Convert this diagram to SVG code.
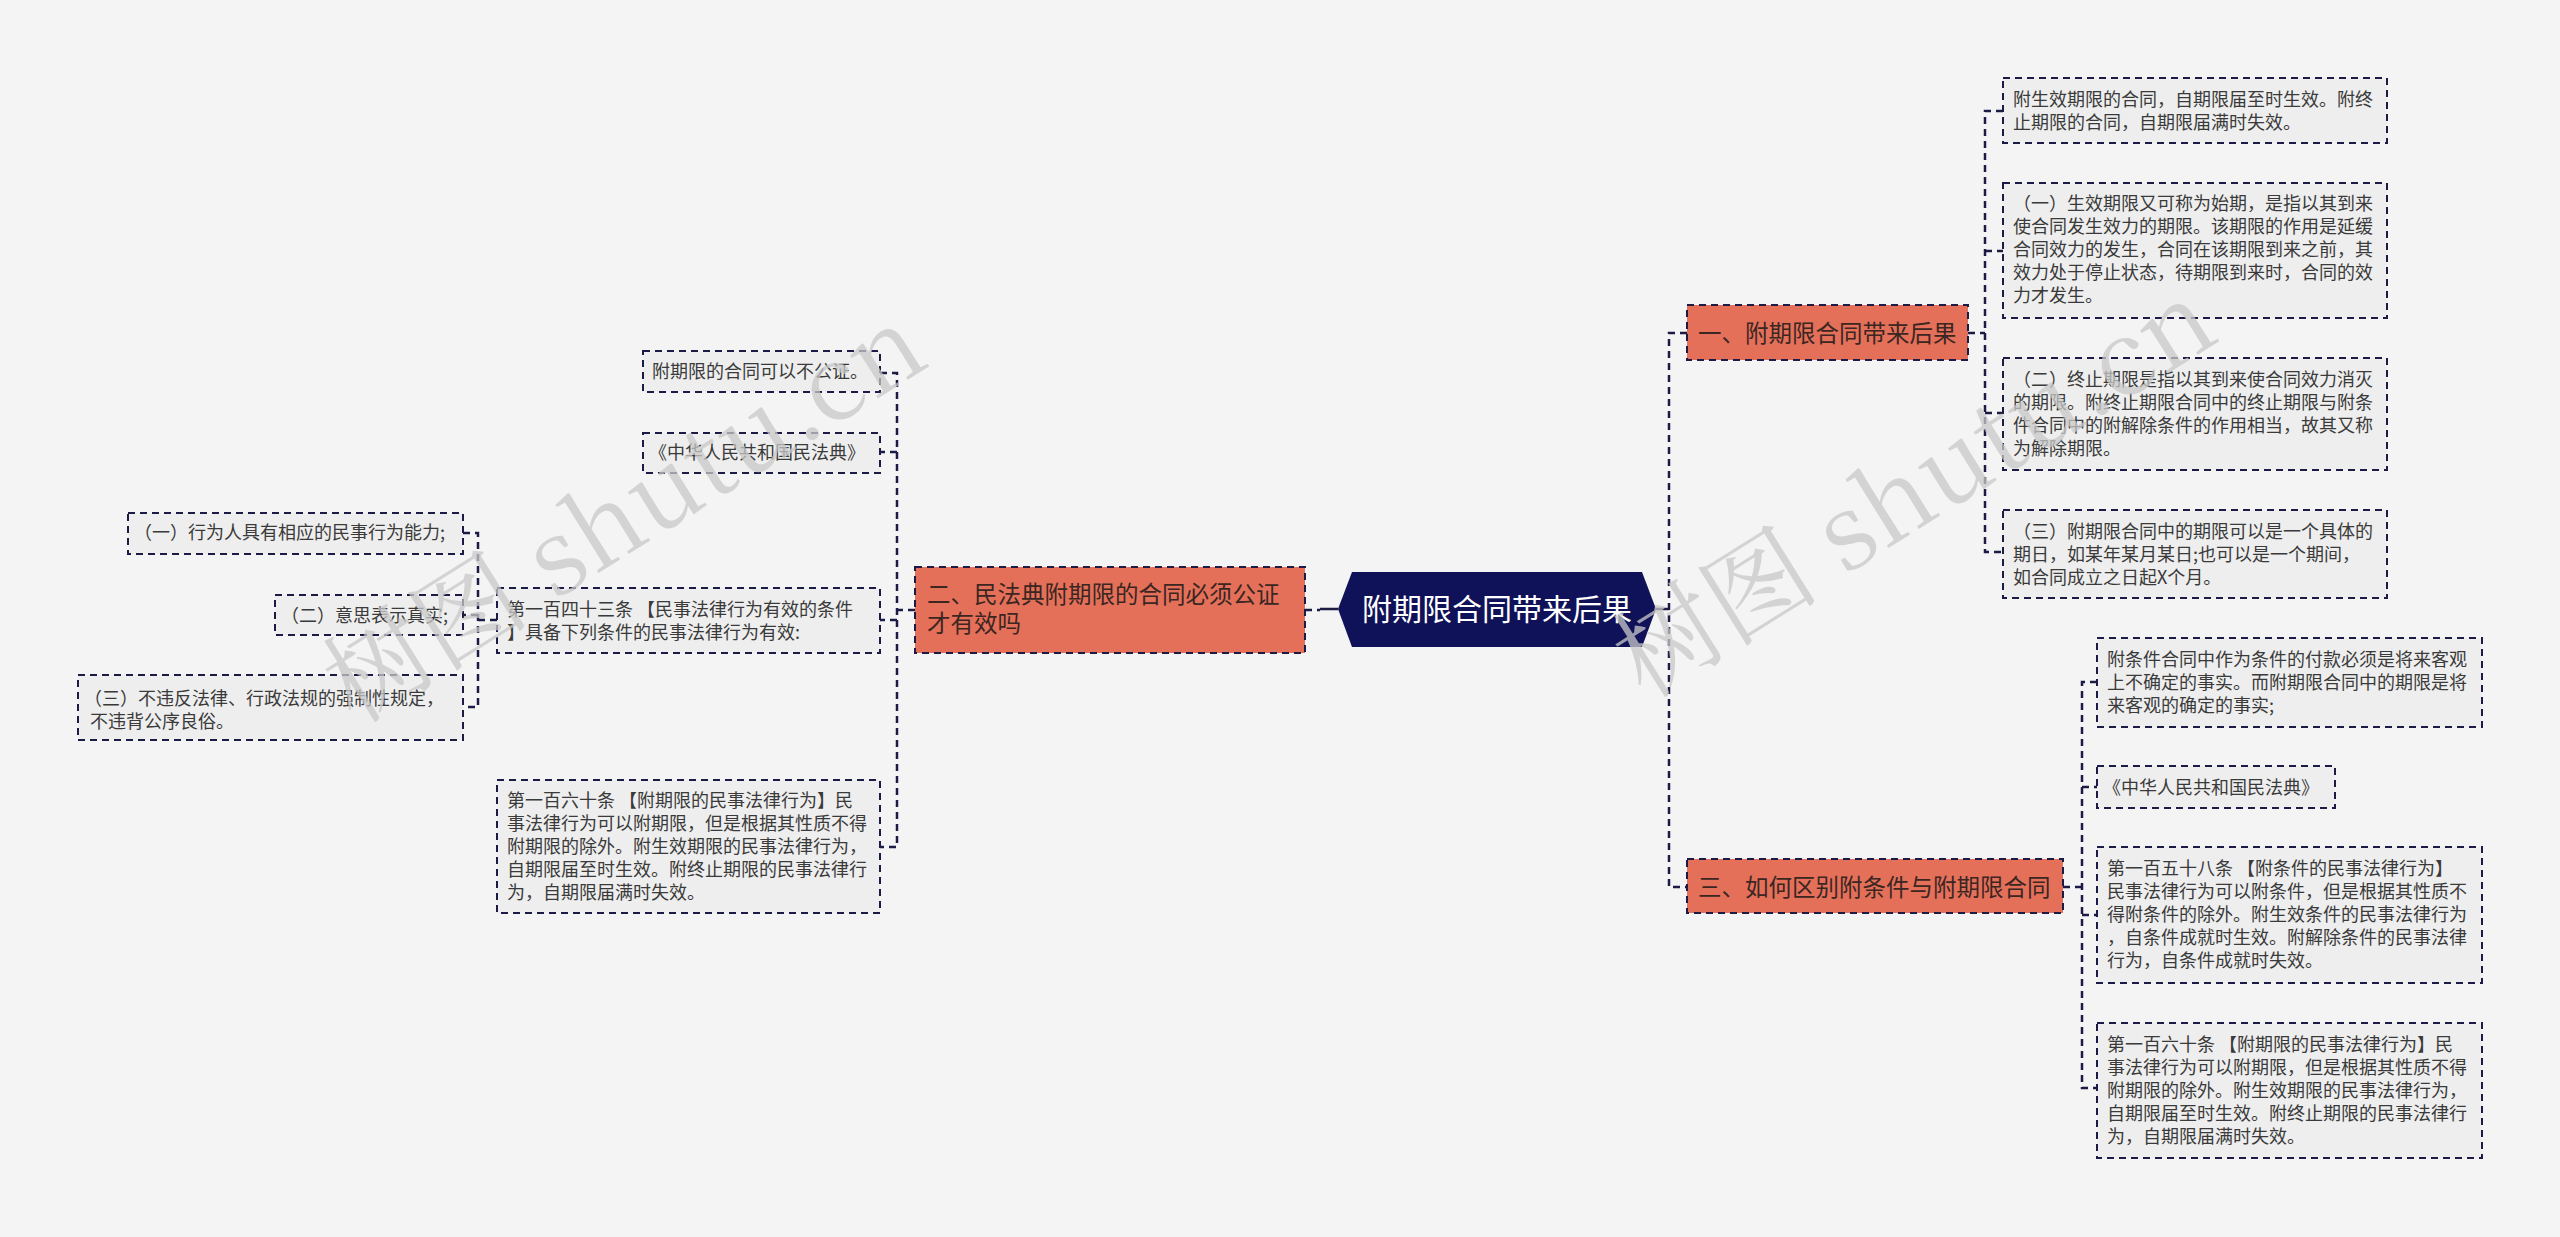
<svg xmlns="http://www.w3.org/2000/svg" width="2560" height="1237" viewBox="0 0 2560 1237">
<style>
.bg{fill:#f4f4f4}
.box{fill:#eeeeee;stroke:#1b1b45;stroke-width:2;stroke-dasharray:7 5}
.cat{fill:#e5705a;stroke:#1b1b45;stroke-width:2;stroke-dasharray:7 5}
.t{font-family:"Noto Sans CJK SC","Microsoft YaHei",sans-serif;font-size:18px;fill:#3a3a3a}
.ct{font-family:"Noto Sans CJK SC",sans-serif;font-size:23.5px;fill:#3b2622}
.mt{font-family:"Noto Sans CJK SC",sans-serif;font-size:30px;fill:#ffffff}
.ln{fill:none;stroke:#1b1b45;stroke-width:2.5;stroke-dasharray:7 5}
.sl{fill:none;stroke:#1b1b45;stroke-width:2.5}
.wm{font-family:"Noto Serif CJK SC","Noto Sans CJK SC",serif;font-size:104px;fill:#c9c9c9;opacity:0.75}
</style>
<rect class="bg" x="0" y="0" width="2560" height="1237"/>

<g id="connectors">
  <path class="sl" d="M1320 609 H1338"/>
  <path class="sl" d="M1656 609 H1669"/>
  <path class="ln" d="M1305 610 H1320"/>
  <path class="ln" d="M1687 333 H1669 V887 H1687"/>
  <path class="ln" d="M1968 333 H1985"/>
  <path class="ln" d="M2003 111 H1985 V552 H2003"/>
  <path class="ln" d="M1985 251 H2003"/>
  <path class="ln" d="M1985 413 H2003"/>
  <path class="ln" d="M2063 887 H2082"/>
  <path class="ln" d="M2097 682 H2082 V1088 H2097"/>
  <path class="ln" d="M2082 787 H2097"/>
  <path class="ln" d="M2082 915 H2097"/>
  <path class="ln" d="M915 610 H897"/>
  <path class="ln" d="M880 373 H897 V847 H880"/>
  <path class="ln" d="M897 452 H880"/>
  <path class="ln" d="M897 620 H880"/>
  <path class="ln" d="M497 620 H478"/>
  <path class="ln" d="M463 533 H478 V707 H463"/>
  <path class="ln" d="M478 615 H463"/>
</g>

<g id="root">
  <polygon points="1338,609 1352,572 1642,572 1656,609 1642,647 1352,647" fill="#0f1258"/>
  <text class="mt" x="1497" y="620" text-anchor="middle">附期限合同带来后果</text>
</g>

<g id="n1">
  <rect class="cat" x="1687" y="305" width="281" height="55"/>
  <text class="ct" x="1698" y="342">一、附期限合同带来后果</text>
</g>
<g id="n3">
  <rect class="cat" x="1687" y="859" width="376" height="54"/>
  <text class="ct" x="1698" y="896">三、如何区别附条件与附期限合同</text>
</g>
<g id="n2">
  <rect class="cat" x="915" y="567" width="390" height="86"/>
  <text class="ct" x="927" y="603">二、民法典附期限的合同必须公证</text>
  <text class="ct" x="927" y="632">才有效吗</text>
</g>

<g id="n1c1">
  <rect class="box" x="2003" y="78" width="384" height="65"/>
  <text class="t" x="2013" y="106">附生效期限的合同，自期限届至时生效。附终</text>
  <text class="t" x="2013" y="129">止期限的合同，自期限届满时失效。</text>
</g>
<g id="n1c2">
  <rect class="box" x="2003" y="183" width="384" height="135"/>
  <text class="t" x="2013" y="210">（一）生效期限又可称为始期，是指以其到来</text>
  <text class="t" x="2013" y="233">使合同发生效力的期限。该期限的作用是延缓</text>
  <text class="t" x="2013" y="256">合同效力的发生，合同在该期限到来之前，其</text>
  <text class="t" x="2013" y="279">效力处于停止状态，待期限到来时，合同的效</text>
  <text class="t" x="2013" y="302">力才发生。</text>
</g>
<g id="n1c3">
  <rect class="box" x="2003" y="358" width="384" height="112"/>
  <text class="t" x="2013" y="386">（二）终止期限是指以其到来使合同效力消灭</text>
  <text class="t" x="2013" y="409">的期限。附终止期限合同中的终止期限与附条</text>
  <text class="t" x="2013" y="432">件合同中的附解除条件的作用相当，故其又称</text>
  <text class="t" x="2013" y="455">为解除期限。</text>
</g>
<g id="n1c4">
  <rect class="box" x="2003" y="510" width="384" height="88"/>
  <text class="t" x="2013" y="538">（三）附期限合同中的期限可以是一个具体的</text>
  <text class="t" x="2013" y="561">期日，如某年某月某日;也可以是一个期间，</text>
  <text class="t" x="2013" y="584">如合同成立之日起X个月。</text>
</g>

<g id="n3c1">
  <rect class="box" x="2097" y="638" width="385" height="89"/>
  <text class="t" x="2107" y="666">附条件合同中作为条件的付款必须是将来客观</text>
  <text class="t" x="2107" y="689">上不确定的事实。而附期限合同中的期限是将</text>
  <text class="t" x="2107" y="712">来客观的确定的事实;</text>
</g>
<g id="n3c2">
  <rect class="box" x="2097" y="766" width="238" height="42"/>
  <text class="t" x="2103" y="794">《中华人民共和国民法典》</text>
</g>
<g id="n3c3">
  <rect class="box" x="2097" y="847" width="385" height="136"/>
  <text class="t" x="2107" y="875">第一百五十八条 【附条件的民事法律行为】</text>
  <text class="t" x="2107" y="898">民事法律行为可以附条件，但是根据其性质不</text>
  <text class="t" x="2107" y="921">得附条件的除外。附生效条件的民事法律行为</text>
  <text class="t" x="2107" y="944">，自条件成就时生效。附解除条件的民事法律</text>
  <text class="t" x="2107" y="967">行为，自条件成就时失效。</text>
</g>
<g id="n3c4">
  <rect class="box" x="2097" y="1023" width="385" height="135"/>
  <text class="t" x="2107" y="1051">第一百六十条 【附期限的民事法律行为】民</text>
  <text class="t" x="2107" y="1074">事法律行为可以附期限，但是根据其性质不得</text>
  <text class="t" x="2107" y="1097">附期限的除外。附生效期限的民事法律行为，</text>
  <text class="t" x="2107" y="1120">自期限届至时生效。附终止期限的民事法律行</text>
  <text class="t" x="2107" y="1143">为，自期限届满时失效。</text>
</g>

<g id="n2c1">
  <rect class="box" x="643" y="351" width="237" height="41"/>
  <text class="t" x="652" y="378">附期限的合同可以不公证。</text>
</g>
<g id="n2c2">
  <rect class="box" x="643" y="433" width="237" height="40"/>
  <text class="t" x="649" y="459">《中华人民共和国民法典》</text>
</g>
<g id="n2c3">
  <rect class="box" x="497" y="588" width="383" height="65"/>
  <text class="t" x="507" y="616">第一百四十三条 【民事法律行为有效的条件</text>
  <text class="t" x="507" y="639">】具备下列条件的民事法律行为有效:</text>
</g>
<g id="n2c4">
  <rect class="box" x="497" y="780" width="383" height="133"/>
  <text class="t" x="507" y="807">第一百六十条 【附期限的民事法律行为】民</text>
  <text class="t" x="507" y="830">事法律行为可以附期限，但是根据其性质不得</text>
  <text class="t" x="507" y="853">附期限的除外。附生效期限的民事法律行为，</text>
  <text class="t" x="507" y="876">自期限届至时生效。附终止期限的民事法律行</text>
  <text class="t" x="507" y="899">为，自期限届满时失效。</text>
</g>

<g id="c1">
  <rect class="box" x="128" y="513" width="335" height="41"/>
  <text class="t" x="134" y="539">（一）行为人具有相应的民事行为能力;</text>
</g>
<g id="c2">
  <rect class="box" x="275" y="595" width="188" height="40"/>
  <text class="t" x="281" y="622">（二）意思表示真实;</text>
</g>
<g id="c3">
  <rect class="box" x="78" y="675" width="385" height="65"/>
  <text class="t" x="84" y="705">（三）不违反法律、行政法规的强制性规定，</text>
  <text class="t" x="90" y="728">不违背公序良俗。</text>
</g>

<g id="watermarks">
  <text class="wm" transform="translate(355,725) rotate(-32)">树图 shutu.cn</text>
  <text class="wm" transform="translate(1645,700) rotate(-32)">树图 shutu.cn</text>
</g>
</svg>
